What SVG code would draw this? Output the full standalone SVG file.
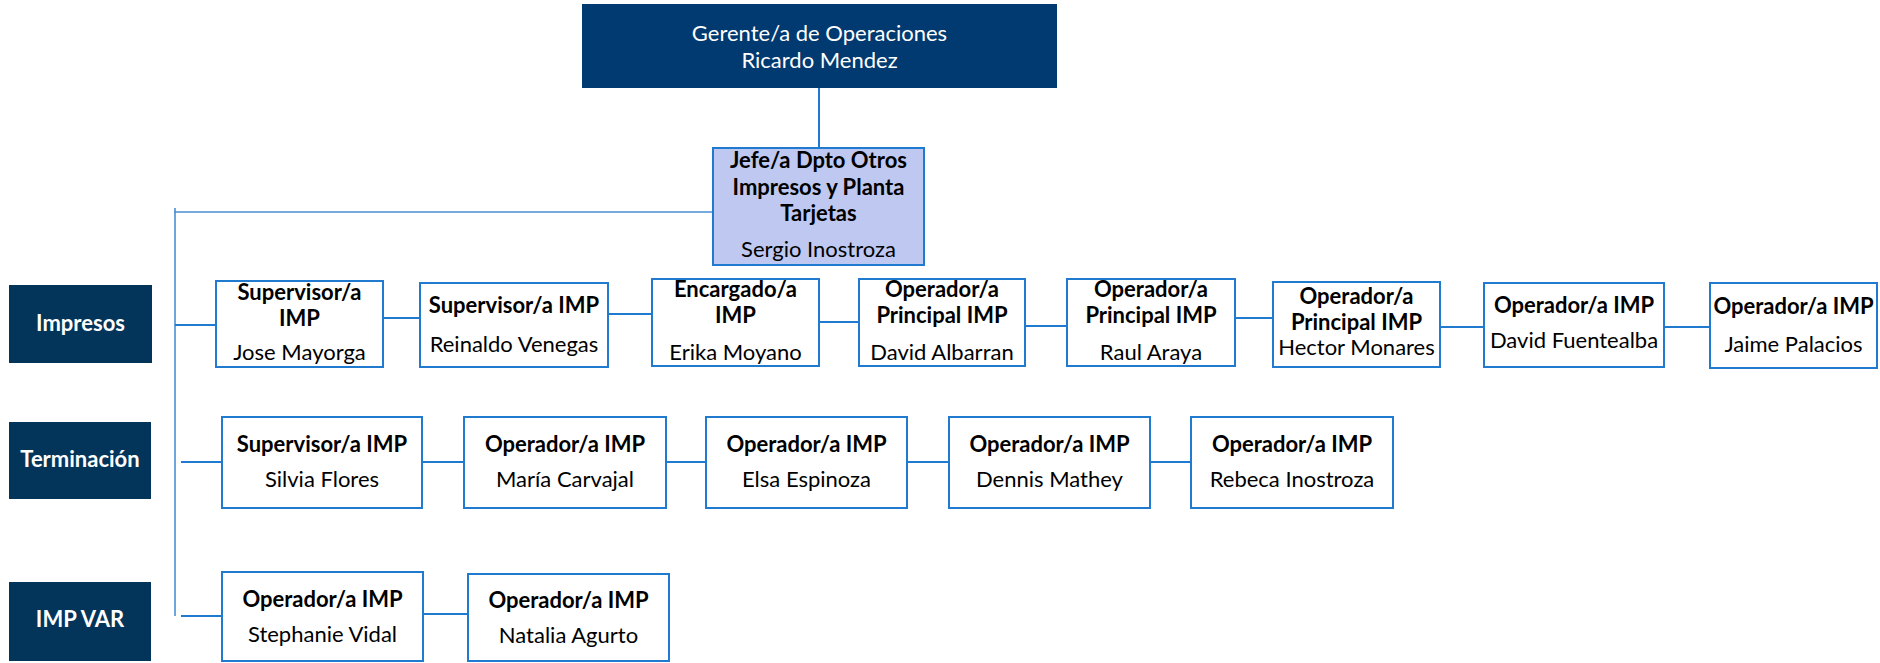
<svg xmlns="http://www.w3.org/2000/svg" width="1880" height="663" viewBox="0 0 1880 663">
<style>
.bg{fill:#ffffff}
.top{fill:#003a70}
.cat{fill:#03345a}
.box{fill:#ffffff;stroke:#1f7ad0;stroke-width:2}
.jefe{fill:#bfc8f0;stroke:#1f7ad0;stroke-width:2}
.t{font-family:Lato,"Liberation Sans",sans-serif;font-size:22px;text-anchor:middle;fill:#000}
.b{font-weight:bold}
.w{fill:#ffffff}
.c{stroke:#1f7ad0;stroke-width:2;fill:none}
.trunk{stroke:#4a8fd6;stroke-width:1.6;fill:none}
</style>
<rect class="bg" x="0" y="0" width="1880" height="663"/>
<g id="connectors">
<line class="c" x1="819" y1="88" x2="819" y2="148"/>
<line class="trunk" x1="174" y1="212" x2="713" y2="212"/>
<line class="trunk" x1="175" y1="208" x2="175" y2="616"/>
<line class="c" x1="175" y1="325" x2="216" y2="325"/>
<line class="c" x1="383" y1="318" x2="420" y2="318"/>
<line class="c" x1="608" y1="314" x2="652" y2="314"/>
<line class="c" x1="819" y1="322" x2="859" y2="322"/>
<line class="c" x1="1025" y1="326" x2="1067" y2="326"/>
<line class="c" x1="1235" y1="318" x2="1273" y2="318"/>
<line class="c" x1="1440" y1="327" x2="1484" y2="327"/>
<line class="c" x1="1664" y1="327" x2="1710" y2="327"/>
<line class="c" x1="181" y1="462" x2="222" y2="462"/>
<line class="c" x1="422" y1="462" x2="464" y2="462"/>
<line class="c" x1="666" y1="462" x2="706" y2="462"/>
<line class="c" x1="907" y1="462" x2="949" y2="462"/>
<line class="c" x1="1150" y1="462" x2="1191" y2="462"/>
<line class="c" x1="181" y1="616" x2="222" y2="616"/>
<line class="c" x1="423" y1="614" x2="468" y2="614"/>
</g>
<g id="gerente">
<rect class="top" x="582" y="4" width="475" height="84"/>
<text class="t w" x="819.5" y="41">Gerente/a de Operaciones</text>
<text class="t w" x="819.5" y="68">Ricardo Mendez</text>
</g>
<g id="jefe">
<rect class="jefe" x="713" y="148" width="211" height="117"/>
<text class="t b" x="818.5" y="168">Jefe/a Dpto Otros</text>
<text class="t b" x="818.5" y="195">Impresos y Planta</text>
<text class="t b" x="818.5" y="221">Tarjetas</text>
<text class="t" x="818.5" y="257">Sergio Inostroza</text>
</g>
<g id="cat-impresos">
<rect class="cat" x="9" y="285" width="143" height="78"/>
<text class="t b w" x="80.5" y="331">Impresos</text>
</g>
<g id="cat-terminacion">
<rect class="cat" x="9" y="422" width="142" height="77"/>
<text class="t b w" x="80" y="467">Terminación</text>
</g>
<g id="cat-impvar">
<rect class="cat" x="9" y="582" width="142" height="79"/>
<text class="t b w" x="80" y="627">IMP VAR</text>
</g>
<g id="jose">
<rect class="box" x="216" y="281" width="167" height="86"/>
<text class="t b" x="299.5" y="300">Supervisor/a</text>
<text class="t b" x="299.5" y="326">IMP</text>
<text class="t" x="299.5" y="360">Jose Mayorga</text>
</g>
<g id="reinaldo">
<rect class="box" x="420" y="283" width="188" height="84"/>
<text class="t b" x="514" y="313">Supervisor/a IMP</text>
<text class="t" x="514" y="352">Reinaldo Venegas</text>
</g>
<g id="erika">
<rect class="box" x="652" y="279" width="167" height="87"/>
<text class="t b" x="735.5" y="297">Encargado/a</text>
<text class="t b" x="735.5" y="323">IMP</text>
<text class="t" x="735.5" y="360">Erika Moyano</text>
</g>
<g id="david-albarran">
<rect class="box" x="859" y="279" width="166" height="87"/>
<text class="t b" x="942" y="297">Operador/a</text>
<text class="t b" x="942" y="323">Principal IMP</text>
<text class="t" x="942" y="360">David Albarran</text>
</g>
<g id="raul">
<rect class="box" x="1067" y="279" width="168" height="87"/>
<text class="t b" x="1151" y="297">Operador/a</text>
<text class="t b" x="1151" y="323">Principal IMP</text>
<text class="t" x="1151" y="360">Raul Araya</text>
</g>
<g id="hector">
<rect class="box" x="1273" y="282" width="167" height="85"/>
<text class="t b" x="1356.5" y="304">Operador/a</text>
<text class="t b" x="1356.5" y="330">Principal IMP</text>
<text class="t" x="1356.5" y="355">Hector Monares</text>
</g>
<g id="david-fuentealba">
<rect class="box" x="1484" y="283" width="180" height="84"/>
<text class="t b" x="1574" y="313">Operador/a IMP</text>
<text class="t" x="1574" y="348">David Fuentealba</text>
</g>
<g id="jaime">
<rect class="box" x="1710" y="283" width="167" height="85"/>
<text class="t b" x="1793.5" y="314">Operador/a IMP</text>
<text class="t" x="1793.5" y="352">Jaime Palacios</text>
</g>
<g id="silvia">
<rect class="box" x="222" y="417" width="200" height="91"/>
<text class="t b" x="322" y="452">Supervisor/a IMP</text>
<text class="t" x="322" y="487">Silvia Flores</text>
</g>
<g id="maria">
<rect class="box" x="464" y="417" width="202" height="91"/>
<text class="t b" x="565" y="452">Operador/a IMP</text>
<text class="t" x="565" y="487">María Carvajal</text>
</g>
<g id="elsa">
<rect class="box" x="706" y="417" width="201" height="91"/>
<text class="t b" x="806.5" y="452">Operador/a IMP</text>
<text class="t" x="806.5" y="487">Elsa Espinoza</text>
</g>
<g id="dennis">
<rect class="box" x="949" y="417" width="201" height="91"/>
<text class="t b" x="1049.5" y="452">Operador/a IMP</text>
<text class="t" x="1049.5" y="487">Dennis Mathey</text>
</g>
<g id="rebeca">
<rect class="box" x="1191" y="417" width="202" height="91"/>
<text class="t b" x="1292" y="452">Operador/a IMP</text>
<text class="t" x="1292" y="487">Rebeca Inostroza</text>
</g>
<g id="stephanie">
<rect class="box" x="222" y="572" width="201" height="89"/>
<text class="t b" x="322.5" y="607">Operador/a IMP</text>
<text class="t" x="322.5" y="642">Stephanie Vidal</text>
</g>
<g id="natalia">
<rect class="box" x="468" y="574" width="201" height="87"/>
<text class="t b" x="568.5" y="608">Operador/a IMP</text>
<text class="t" x="568.5" y="643">Natalia Agurto</text>
</g>
</svg>
